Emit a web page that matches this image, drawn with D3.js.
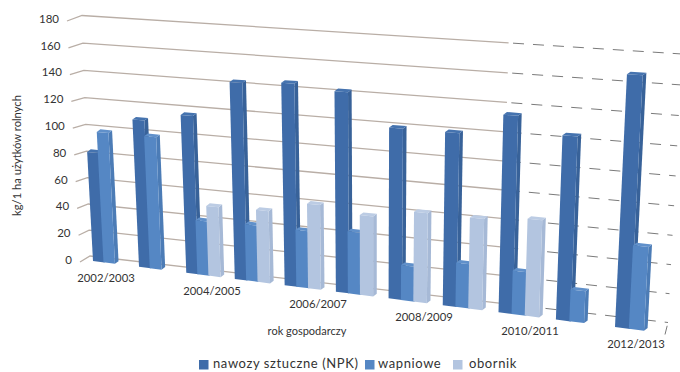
<!DOCTYPE html>
<html lang="pl">
<head>
<meta charset="utf-8">
<title>Nawożenie na 1 ha użytków rolnych</title>
<script src="https://cdn.jsdelivr.net/npm/d3@7"></script>
<style>
  html, body { margin: 0; padding: 0; background: #fff; }
  svg { display: block; font-family: Lato, "Open Sans", sans-serif; }
</style>
</head>
<body>
<svg id="chart" width="680" height="372"></svg>
<script>
// Fertiliser use per season, kg per hectare of farmland
const seasons = ["2002/2003","2003/2004","2004/2005","2005/2006","2006/2007","2007/2008",
                 "2008/2009","2009/2010","2010/2011","2011/2012","2012/2013"];
const seasonLabels = ["2002/2003","2004/2005","2006/2007","2008/2009","2010/2011","2012/2013"];
const npk       = [80, 106, 112, 137, 139, 136, 115, 115, 129, 119, 159];
const wapniowe  = [95, 95, 39, 40, 40, 43, 24, 30, 29, 21, 54];
const obornik   = [null, null, 50, 51, 59, 55, 61, 61, 64, null, null];
const valueTicks = [0, 20, 40, 60, 80, 100, 120, 140, 160, 180];
const seriesNames = ["nawozy sztuczne (NPK)", "wapniowe", "obornik"];

const seriesList = [npk, wapniowe, obornik];
const palette = [
  { front: "#3f6ca9", side: "#386299", top: "#4573af" },
  { front: "#5587c4", side: "#4c7cb6", top: "#6090ca" },
  { front: "#b3c5e0", side: "#a6b9d6", top: "#bccce4" }
];

// Maps the unit square onto a quadrilateral, giving the chart its perspective
function quadProjection(p00, p10, p11, p01) {
  const dx1 = p10[0] - p11[0], dx2 = p01[0] - p11[0], sx = p00[0] - p10[0] + p11[0] - p01[0];
  const dy1 = p10[1] - p11[1], dy2 = p01[1] - p11[1], sy = p00[1] - p10[1] + p11[1] - p01[1];
  const det = dx1 * dy2 - dx2 * dy1;
  const g = (sx * dy2 - dx2 * sy) / det;
  const h = (dx1 * sy - sx * dy1) / det;
  const a = p10[0] - p00[0] + g * p10[0], b = p01[0] - p00[0] + h * p01[0], c = p00[0];
  const d = p10[1] - p00[1] + g * p10[1], e = p01[1] - p00[1] + h * p01[1], f = p00[1];
  return (u, v) => {
    const w = g * u + h * v + 1;
    return [(a * u + b * v + c) / w, (d * u + e * v + f) / w];
  };
}

const svg = d3.select("#chart");
const groupScale = d3.scaleLinear().domain([0, seasons.length - 1]).range([0, 1]);
const valueScale = d3.scaleLinear().domain([0, 180]).range([0, 1]);

// Plane the bars stand in, and the back wall behind it
const barPlane  = quadProjection([93, 261], [615, 327], [628.6, 39], [79.5, 9]);
const wallPlane = quadProjection([90, 256], [668, 322.5], [682, 54], [82, 15.5]);
const sideWall  = d3.scaleLinear().domain([0, 180]);

const plane = (slot, value) => barPlane(groupScale(slot), valueScale(value));
const wall  = (t, value) => wallPlane(t, valueScale(value));
const lineGen = d3.line();

const solidEnd = 0.735, dashStart = 0.742;
const gridGroup = svg.append("g").attr("fill", "none");

const leftEndX = sideWall.copy().range([80, 67]);
const leftEndY = sideWall.copy().range([262, 21]);

valueTicks.forEach(tick => {
  const corner = wall(0, tick);
  const tip = [leftEndX(tick), leftEndY(tick)];
  gridGroup.append("path")
    .attr("d", lineGen([tip, corner, wall(solidEnd, tick)]))
    .attr("stroke", "#b9aea6").attr("stroke-width", 1.3);
  gridGroup.append("path")
    .attr("d", lineGen([wall(dashStart, tick), wall(1, tick)]))
    .attr("stroke", "#7a7a7a").attr("stroke-width", 1)
    .attr("stroke-dasharray", "11 9");
  svg.append("text")
    .attr("x", tip[0] - 8).attr("y", tip[1] - 1)
    .attr("text-anchor", "end").attr("dominant-baseline", "middle")
    .attr("font-size", 11.5).attr("fill", "#333")
    .text(tick);
});

// Front edge of the floor and the closing edge at the far right
const floorFront = [[80, 262], [665, 334.5]];
const floorBreak = d3.interpolateArray(floorFront[0], floorFront[1]);
gridGroup.append("path").attr("d", lineGen([floorBreak(0), floorBreak(0.74)]))
  .attr("stroke", "#c9bfb6").attr("stroke-width", 1.3);
gridGroup.append("path").attr("d", lineGen([floorBreak(0.745), floorBreak(1), wall(1, 0)]))
  .attr("stroke", "#7a7a7a").attr("stroke-width", 1).attr("stroke-dasharray", "9 8");

// Bars: front face, side face and cap, grouped by season
const seriesStep = 0.23, barWidth = 0.25;
const depth = [3.6, -2.6];
const shift = p => [p[0] + depth[0], p[1] + depth[1]];
const barLayer = svg.append("g");

seasons.forEach((season, i) => {
  seriesList.forEach((values, s) => {
    const value = values[i];
    if (value == null) return;
    const left = i + s * seriesStep, right = left + barWidth;
    const bl = plane(left, 0), br = plane(right, 0), tr = plane(right, value), tl = plane(left, value);
    const colours = palette[s];
    const bar = barLayer.append("g").attr("class", "bar");
    bar.append("path").attr("d", lineGen([br, shift(br), shift(tr), tr]) + "Z").attr("fill", colours.side);
    bar.append("path").attr("d", lineGen([tl, tr, shift(tr), shift(tl)]) + "Z").attr("fill", colours.top);
    bar.append("path").attr("d", lineGen([bl, br, tr, tl]) + "Z").attr("fill", colours.front);
  });
});

// Season labels sit on their own stepped line below the floor
const labelX = d3.scaleLinear().domain([0, seasonLabels.length - 1]).range([106, 636]);
const labelY = d3.scaleLinear().domain([0, seasonLabels.length - 1]).range([279, 345]);
svg.append("g").selectAll("text").data(seasonLabels).join("text")
  .attr("x", (d, i) => labelX(i)).attr("y", (d, i) => labelY(i))
  .attr("text-anchor", "middle").attr("dominant-baseline", "middle")
  .attr("font-size", 11.3).attr("fill", "#333")
  .text(d => d);

svg.append("text")
  .attr("x", 307).attr("y", 332)
  .attr("text-anchor", "middle").attr("dominant-baseline", "middle")
  .attr("font-size", 11).attr("fill", "#333")
  .text("rok gospodarczy");

svg.append("text")
  .attr("transform", "translate(18,155.5) rotate(-90)")
  .attr("text-anchor", "middle").attr("dominant-baseline", "middle")
  .attr("font-size", 11.2).attr("fill", "#333")
  .text("kg/1 ha użytków rolnych");

// Legend along the bottom edge
const legendSwatchX = [199, 365, 453];
const legendTextX = [213, 378, 469];
const legend = svg.append("g");
seriesNames.forEach((name, i) => {
  legend.append("rect")
    .attr("x", legendSwatchX[i]).attr("y", 360).attr("width", 9.5).attr("height", 9.5)
    .attr("fill", palette[i].front);
  legend.append("text")
    .attr("x", legendTextX[i]).attr("y", 364.5)
    .attr("dominant-baseline", "middle")
    .attr("font-size", 13).attr("letter-spacing", 0.6).attr("fill", "#333")
    .text(name);
});
</script>
</body>
</html>
